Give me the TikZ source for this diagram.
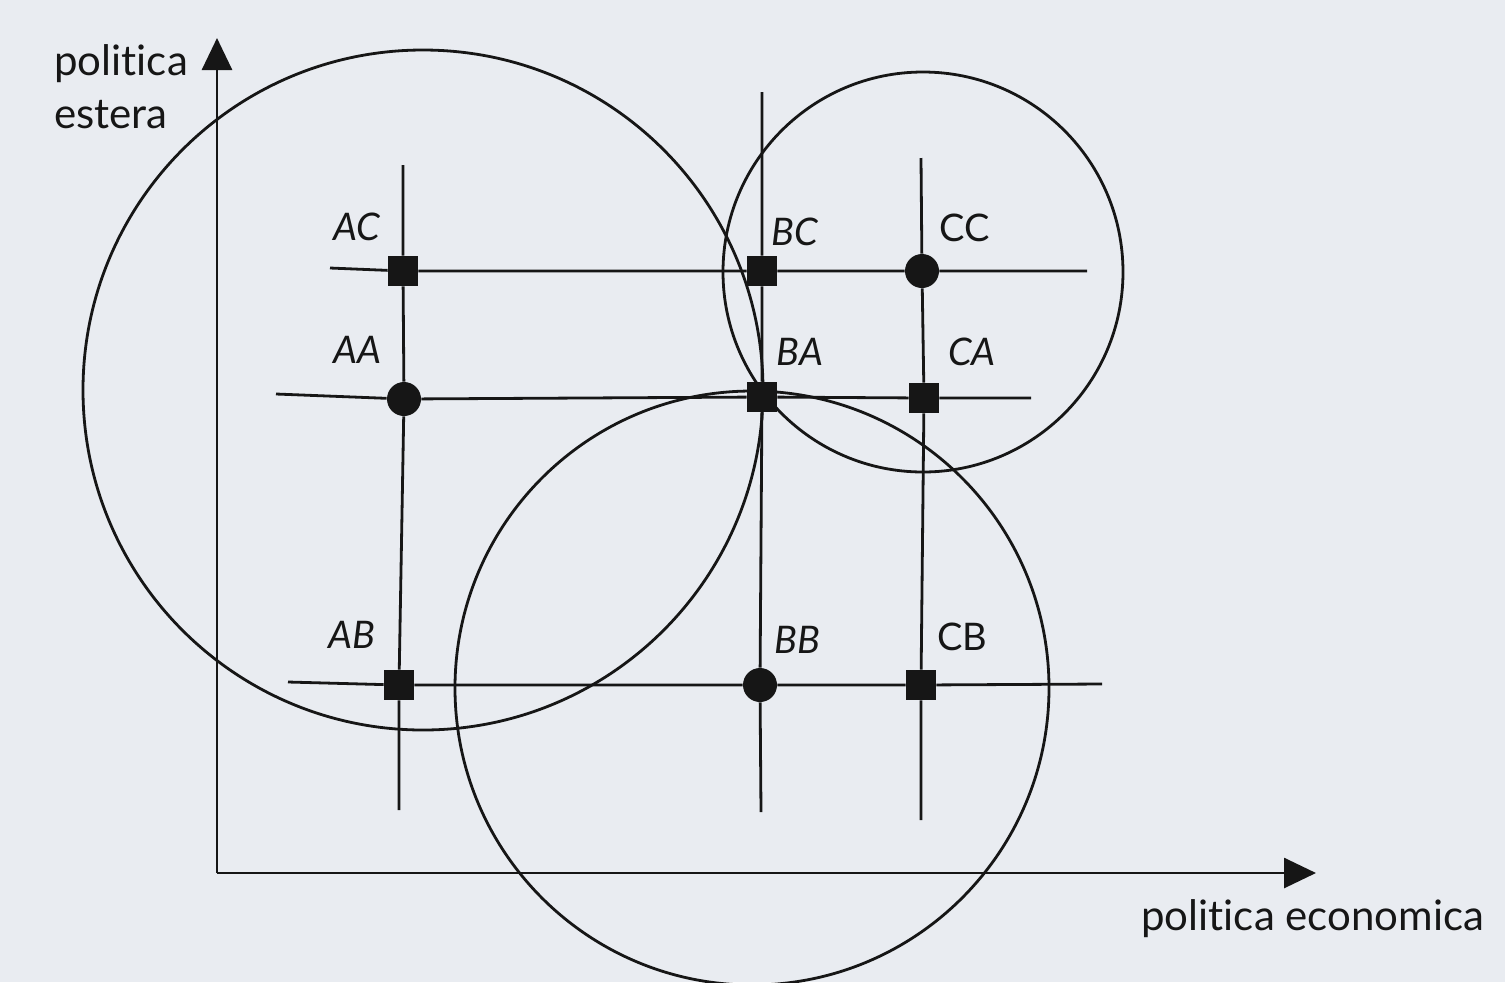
\documentclass[tikz,border=0pt]{standalone}
\usepackage{fontspec}
\setmainfont{Lato}[Ligatures=NoCommon]
\usetikzlibrary{arrows.meta}
\definecolor{ink}{RGB}{22,22,22}
\definecolor{paper}{RGB}{233,236,241}
\begin{document}
\begin{tikzpicture}[x=0.5pt,y=-0.5pt,
  ln/.style={draw=ink,line width=1.4pt},
  sq/.style={rectangle,fill=ink,draw=none,minimum size=15pt,inner sep=0pt},
  dot/.style={circle,fill=ink,draw=none,minimum size=17pt,inner sep=0pt},
  lab/.style={text=ink,font=\fontsize{19}{22}\selectfont\itshape,inner sep=0pt},
  labu/.style={text=ink,font=\fontsize{19}{22}\selectfont,inner sep=0pt},
  axlab/.style={text=ink,font=\fontsize{21}{26.5}\selectfont,inner sep=0pt,align=left},
  axis/.style={draw=ink,line width=1.4pt,-{Triangle[length=16pt,width=15pt]}}]
\useasboundingbox (0,0) rectangle (1505,982);
\fill[paper] (0,0) rectangle (1505,982);
\clip (0,0) rectangle (1505,982);

% axes
\coordinate (O) at (217,873);
\coordinate (ytip) at (217,38);
\coordinate (xtip) at (1316,873);
\draw[axis] (O) -- (ytip);
\draw[axis] (O) -- (xtip);
\node[axlab,anchor=north west] (ylab) at (54,44) {politica\\estera};
\node[axlab,anchor=base west] (xlab) at (1141,930) {politica economica};

% circles
\draw[ln] (423,390) circle [radius=170pt];
\draw[ln] (923,272) circle [radius=100pt];
\draw[ln] (752,688) circle [radius=148.5pt];

% points
\node[sq]  (AC) at (403,271) {};
\node[sq]  (BC) at (762,271) {};
\node[dot] (CC) at (922,271) {};
\node[dot] (AA) at (404,399) {};
\node[sq]  (BA) at (762,397) {};
\node[sq]  (CA) at (924,398) {};
\node[sq]  (AB) at (399,685) {};
\node[dot] (BB) at (760,685) {};
\node[sq]  (CB) at (921,685) {};

% free ends of the grid lines
\coordinate (vAt) at (403,165);  \coordinate (vAb) at (399,810);
\coordinate (vBt) at (762,92);   \coordinate (vBb) at (761,812);
\coordinate (vCt) at (921,158);  \coordinate (vCb) at (921,820);
\coordinate (hCl) at (330,268);  \coordinate (hCr) at (1087,271);
\coordinate (hAl) at (276,394);  \coordinate (hAr) at (1031,398);
\coordinate (hBl) at (288,682);  \coordinate (hBr) at (1102,684);

% grid lines
\draw[ln] (vAt) -- (AC) -- (AA) -- (AB) -- (vAb);
\draw[ln] (vBt) -- (BC) -- (BA) -- (BB) -- (vBb);
\draw[ln] (vCt) -- (CC) -- (CA) -- (CB) -- (vCb);
\draw[ln] (hCl) -- (AC) -- (BC) -- (CC) -- (hCr);
\draw[ln] (hAl) -- (AA) -- (BA) -- (CA) -- (hAr);
\draw[ln] (hBl) -- (AB) -- (BB) -- (CB) -- (hBr);

% labels
\node[lab]  (lAC) at (357,227) {AC};
\node[lab]  (lBC) at (795,232) {BC};
\node[labu] (lCC) at (965,228) {CC};
\node[lab]  (lAA) at (357,350) {AA};
\node[lab]  (lBA) at (800,352) {BA};
\node[lab]  (lCA) at (972,352) {CA};
\node[lab]  (lAB) at (352,635) {AB};
\node[lab]  (lBB) at (797,640) {BB};
\node[labu] (lCB) at (962,637) {CB};
\end{tikzpicture}
\end{document}
